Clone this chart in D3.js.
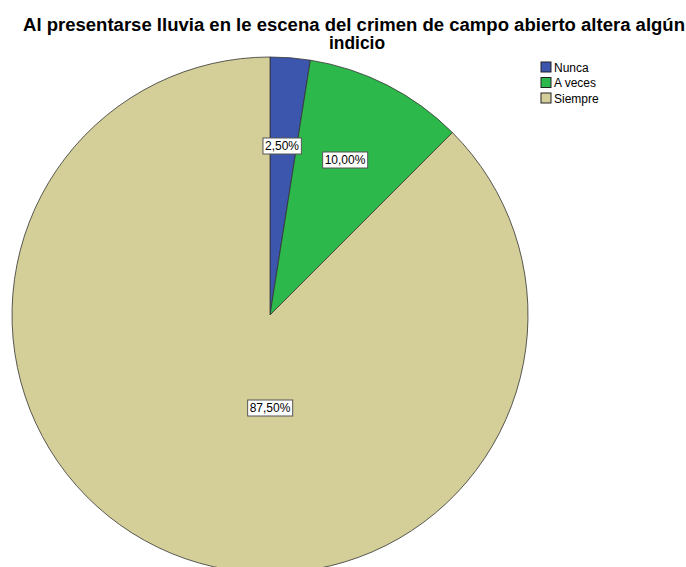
<!DOCTYPE html>
<html><head><meta charset="utf-8">
<script src="https://cdn.jsdelivr.net/npm/d3@7"></script>
<style>body{margin:0;background:#fff;} svg{display:block;}</style>
</head><body>
<svg id="chart" width="686" height="567"></svg>
<script>
const categories = ["Nunca", "A veces", "Siempre"];
const values = [2.5, 10.0, 87.5];
const valueLabels = ["2,50%", "10,00%", "87,50%"];
const colors = ["#3d56ad", "#2db84b", "#d4ce98"];
const labelPos = [[282,146],[345,160],[270,408]];

const svg = d3.select("#chart");
const cx = 270, cy = 315, R = 258;
const font = "Liberation Sans, Arial, sans-serif";

svg.append("text").attr("x", 354).attr("y", 31).attr("text-anchor","middle")
  .attr("font-family", font).attr("font-weight","bold").attr("font-size",17.5)
  .attr("textLength", 662).attr("lengthAdjust", "spacingAndGlyphs")
  .text("Al presentarse lluvia en le escena del crimen de campo abierto altera algún");
svg.append("text").attr("x", 357).attr("y", 48.5).attr("text-anchor","middle")
  .attr("font-family", font).attr("font-weight","bold").attr("font-size",17.5)
  .attr("textLength", 56).attr("lengthAdjust", "spacingAndGlyphs")
  .text("indicio");

const pie = d3.pie().sort(null).value(d => d)(values);
const arc = d3.arc().innerRadius(0).outerRadius(R);
const g = svg.append("g").attr("transform", `translate(${cx},${cy})`);
g.selectAll("path").data(pie).join("path")
  .attr("d", arc).attr("fill", (d,i) => colors[i])
  .attr("stroke", "#333").attr("stroke-width", 0.8);

labelPos.forEach((p, i) => {
  const t = svg.append("text").attr("x", p[0]).attr("y", p[1] + 4)
    .attr("text-anchor","middle").attr("font-family", font).attr("font-size", 12)
    .text(valueLabels[i]);
  const bb = t.node().getBBox();
  svg.insert("rect", () => t.node())
    .attr("x", bb.x - 2).attr("y", bb.y - 1).attr("width", bb.width + 4).attr("height", bb.height + 2)
    .attr("fill", "#fff").attr("stroke", "#555").attr("stroke-width", 1);
});

const lg = svg.append("g").attr("transform", "translate(541,62)");
categories.forEach((c, i) => {
  lg.append("rect").attr("x", 0).attr("y", i*15.5).attr("width", 10).attr("height", 10)
    .attr("fill", colors[i]).attr("stroke", "#222").attr("stroke-width", 1);
  lg.append("text").attr("x", 13).attr("y", i*15.5 + 9.5).attr("font-family", font)
    .attr("font-size", 12).text(c);
});
</script>
</body></html>
